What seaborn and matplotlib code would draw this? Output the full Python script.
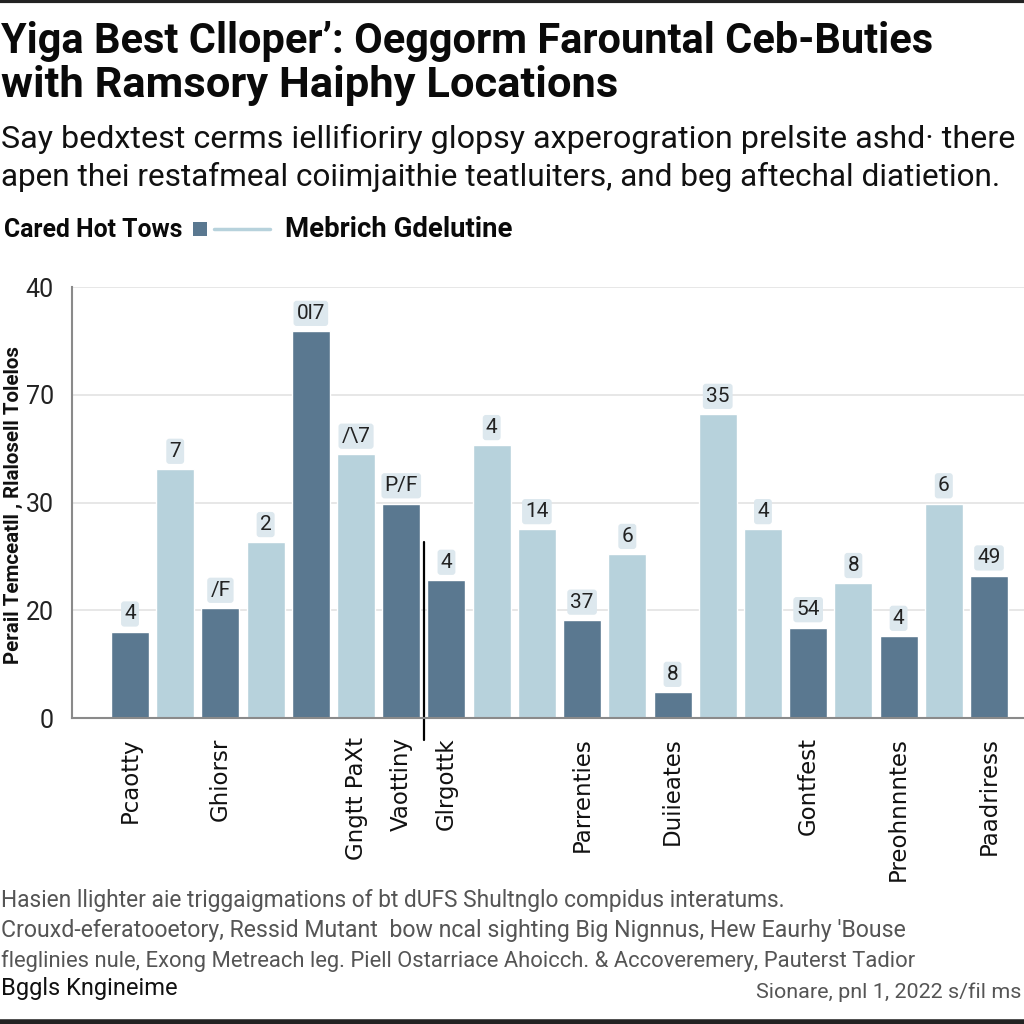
import pandas as pd
import seaborn as sns
import matplotlib.pyplot as plt
from matplotlib.lines import Line2D
from matplotlib.patches import Rectangle

# Data
series_names = ["Cared Hot Tows", "Mebrich Gdelutine"]
bar_series = ["Cared Hot Tows", "Mebrich Gdelutine", "Cared Hot Tows", "Mebrich Gdelutine",
              "Cared Hot Tows", "Mebrich Gdelutine", "Cared Hot Tows", "Cared Hot Tows",
              "Mebrich Gdelutine", "Mebrich Gdelutine", "Cared Hot Tows", "Mebrich Gdelutine",
              "Cared Hot Tows", "Mebrich Gdelutine", "Mebrich Gdelutine", "Cared Hot Tows",
              "Mebrich Gdelutine", "Cared Hot Tows", "Mebrich Gdelutine", "Cared Hot Tows"]
bar_values = [8.0, 23.1, 10.2, 16.3, 35.9, 24.5, 19.9, 12.8, 25.3, 17.5,
              9.1, 15.2, 2.4, 28.2, 17.5, 8.4, 12.5, 7.6, 19.9, 13.2]
bar_labels = ["4", "7", "/F", "2", "0l7", "/\\7", "P/F", "4", "4", "14",
              "37", "6", "8", "35", "4", "54", "8", "4", "6", "49"]
x_labels = ["Pcaotty", "", "Ghiorsr", "", "", "Gngtt PaXt", "Vaottiny", "Glrgottk", "", "",
            "Parrenties", "", "Duiieates", "", "", "Gontfest", "", "Preohnnntes", "", "Paadriress"]
y_ticks = [0, 10, 20, 30, 40]
y_tick_labels = ["0", "20", "30", "70", "40"]

title_lines = ["Yiga Best Clloper\u2019: Oeggorm Farountal Ceb-Buties",
               "with Ramsory Haiphy Locations"]
subtitle_lines = ["Say bedxtest cerms iellifioriry glopsy axperogration prelsite ashd\u00b7 there",
                  "apen thei restafmeal coiimjaithie teatluiters, and beg aftechal diatietion."]
footer_lines = ["Hasien llighter aie triggaigmations of bt dUFS Shultnglo compidus interatums.",
                "Crouxd-eferatooetory, Ressid Mutant  bow ncal sighting Big Nignnus, Hew Eaurhy 'Bouse",
                "fleglinies nule, Exong Metreach leg. Piell Ostarriace Ahoicch. & Accoveremery, Pauterst Tadior"]
footer_name = "Bggls Kngineime"
footer_source = "Sionare, pnl 1, 2022 s/fil ms"
y_label = "Perail Temceatll , Rlalosell Tolelos"

DARK = "#5a7890"
LIGHT = "#b7d2dc"
palette = {"Cared Hot Tows": DARK, "Mebrich Gdelutine": LIGHT}

sns.set_style("white")
NARROW = ["Roboto", "DejaVu Sans"]
plt.rcParams["font.family"] = ["DejaVu Sans"]

df = pd.DataFrame({"slot": list(range(len(bar_values))), "value": bar_values, "series": bar_series})

fig = plt.figure(figsize=(10.24, 10.24), dpi=100)
fig.patch.set_facecolor("white")
renderer = fig.canvas.get_renderer()
ax = fig.add_axes([0.0703, 0.2988, 0.9297, 0.4209])

sns.barplot(data=df, x="slot", y="value", hue="series", palette=palette, dodge=False,
            width=0.84, legend=False, ax=ax, saturation=1)

for i, (v, lab) in enumerate(zip(bar_values, bar_labels)):
    ax.annotate(lab, (i, v), xytext=(0, 6), textcoords="offset points", ha="center", va="bottom",
                fontsize=15, color="#222222", family=NARROW,
                bbox=dict(boxstyle="round,pad=0.15", fc="#dde8ee", ec="none"))

# thin separator line between groups
ax.plot([6.5, 6.5], [16.3, -2.0], color="black", lw=1.6, clip_on=False)

ax.set_xlim(-1.283, 19.774)
ax.set_ylim(0, 40)
ax.set_yticks(y_ticks)
ax.set_yticklabels(y_tick_labels, family=NARROW, fontsize=18, color="#222222")
ax.set_xticks(range(len(x_labels)))
ax.set_xticklabels(x_labels, rotation=90, fontsize=16.5, color="#111111", va="top")
ax.tick_params(axis="x", length=0, pad=14)
ax.tick_params(axis="y", length=0, pad=13)
ax.yaxis.grid(True, color="#e3e3e3", lw=1.2)
ax.set_axisbelow(True)
ax.set_xlabel("")
ax.set_ylabel("")
for s in ["top", "right"]:
    ax.spines[s].set_visible(False)
for s in ["left", "bottom"]:
    ax.spines[s].set_color("#8a8a8a")
    ax.spines[s].set_linewidth(1.5)


def fit_text(x_px, y_px, s, width_px, size0=20, **kw):
    # place text with its baseline at y_px and scale the font so it spans width_px
    t = fig.text(x_px / 1024, 1 - y_px / 1024, s, fontsize=size0, va="baseline", **kw)
    w = t.get_window_extent(renderer).width
    t.set_fontsize(size0 * width_px / w)
    return t


yl = fig.text(0.004, 1 - 505 / 1024, y_label, rotation=90, ha="left", va="center", family=NARROW,
              fontsize=14, fontweight="bold", color="#111111")
h = yl.get_window_extent(renderer).height
yl.set_fontsize(14 * 320 / h)

# titles
fit_text(1, 53, title_lines[0], 930, family=NARROW, fontweight="bold", color="#0a0a0a")
fit_text(1, 97, title_lines[1], 615, family=NARROW, fontweight="bold", color="#0a0a0a")
fit_text(1, 148, subtitle_lines[0], 1008, family=NARROW, color="#111111")
fit_text(1, 186, subtitle_lines[1], 1000, family=NARROW, color="#111111")

# legend row
fit_text(4, 237, series_names[0], 178, family=NARROW, fontweight="bold", color="#0a0a0a")
fig.patches.append(Rectangle((193 / 1024, 1 - 236 / 1024), 14 / 1024, 14 / 1024,
                             transform=fig.transFigure, facecolor=DARK, edgecolor="none"))
fig.add_artist(Line2D([214 / 1024, 270 / 1024], [1 - 229 / 1024, 1 - 229 / 1024], color=LIGHT, lw=2.5))
fit_text(285, 237, series_names[1], 227, family=NARROW, fontweight="bold", color="#0a0a0a")

# footer
for yy, line, wd in zip([907, 937, 967], footer_lines, [785, 903, 913]):
    fit_text(1, yy, line, wd, family=NARROW, color="#555555")
fit_text(1, 995, footer_name, 176, family=NARROW, color="#111111")
fit_text(756, 998, footer_source, 264, family=NARROW, color="#555555")

# frame bands at top and bottom
fig.add_artist(Line2D([0, 1], [0.999, 0.999], color="#222222", lw=3))
fig.add_artist(Line2D([0, 1], [0.002, 0.002], color="#222222", lw=4))

fig.savefig("out.png", dpi=100)
